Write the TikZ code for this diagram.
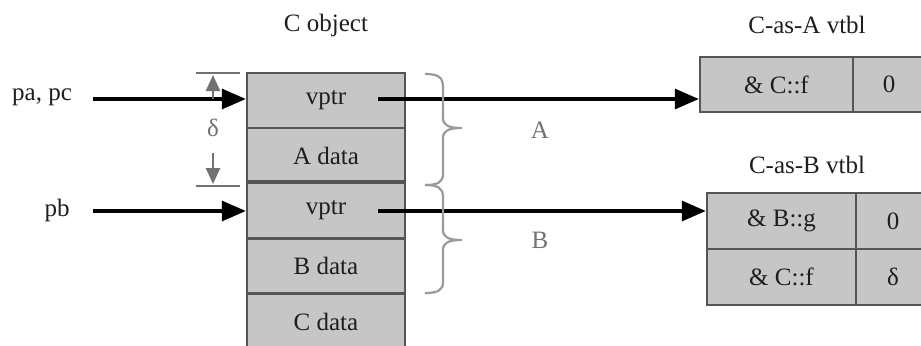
\documentclass[tikz,border=0pt]{standalone}
\usepackage{fontspec}
\setmainfont{Liberation Serif}
\usetikzlibrary{arrows.meta}
\definecolor{cellgray}{HTML}{C6C6C6}
\definecolor{edgegray}{HTML}{555555}
\definecolor{dimgray2}{HTML}{727272}
\definecolor{bracegray}{HTML}{9A9A9A}
\definecolor{txt}{HTML}{1E1E1E}
\begin{document}
\begin{tikzpicture}[x=0.5pt,y=-0.5pt,
  font=\fontsize{12.5}{15}\selectfont,
  cell/.style={draw=edgegray, fill=cellgray, line width=1.2pt, text=txt, inner sep=0pt},
  ptr/.style={line width=1.6pt, -{Triangle[length=12pt,width=10pt]}},
  dimline/.style={draw=dimgray2, line width=1.2pt},
  dimhead/.style={-{Triangle[length=8pt,width=7pt]}},
  lbl/.style={text=txt, inner sep=0pt},
  grlbl/.style={text=dimgray2, inner sep=0pt},
  bracestyle/.style={draw=bracegray, line width=1.1pt}]
\useasboundingbox (0,0) rectangle (921,345);
\clip (0,0) rectangle (921,345);

% C object
\node[lbl] (tco) at (326,25) {C object};
\node[cell, minimum width=79pt, minimum height=27.5pt] (v1) at (326,100.5) {vptr};
\node[cell, minimum width=79pt, minimum height=27.5pt] (ad) at (326,155.5) {A data};
\node[cell, minimum width=79pt, minimum height=27.5pt] (v2) at (326,210.5) {vptr};
\node[cell, minimum width=79pt, minimum height=27.5pt] (bd) at (326,266) {B data};
\node[cell, minimum width=79pt, minimum height=27.5pt] (cd) at (326,321.5) {C data};
\draw[edgegray, line width=2.2pt] (v2.north west) -- (v2.north east);

% vtables
\node[lbl] (tA) at (807,25) {C-as-A vtbl};
\node[cell, minimum width=76.5pt, minimum height=27.5pt] (a1) at (776.5,84.5) {\& C::f};
\node[cell, minimum width=36pt, minimum height=27.5pt] (a2) at (889,84.5) {0};

\node[lbl] (tB) at (807,165) {C-as-B vtbl};
\node[cell, minimum width=74.5pt, minimum height=28pt] (b1) at (781.5,221) {\& B::g};
\node[cell, minimum width=37pt, minimum height=28pt] (b2) at (893,221) {0};
\node[cell, minimum width=74.5pt, minimum height=28pt] (b3) at (781.5,277) {\& C::f};
\node[cell, minimum width=37pt, minimum height=28pt] (b4) at (893,277) {δ};

% incoming pointers
\node[lbl] (pa) at (42,97) {pa, pc};
\node[lbl] (pb) at (57,210) {pb};
\coordinate (pas) at (93,99);
\coordinate (pbs) at (93,211);
\draw[ptr] (pas) -- (pas -| v1.west);
\draw[ptr] (pbs) -- (pbs -| v2.west);

% vptr pointers
\coordinate (v1s) at (378,99);
\coordinate (v2s) at (378,211);
\draw[ptr] (v1s) -- (v1s -| a1.west);
\draw[ptr] (v2s) -- (v2s -| b1.west);

% delta dimension
\coordinate (dt1) at (196,73);
\coordinate (dt2) at (240,73);
\coordinate (db1) at (196,186);
\coordinate (db2) at (240,186);
\draw[dimline] (dt1) -- (dt2);
\draw[dimline] (db1) -- (db2);
\coordinate (du0) at (213,99);
\coordinate (du1) at (213,75);
\coordinate (dd0) at (213,153);
\coordinate (dd1) at (213,184);
\draw[dimline, dimhead] (du0) -- (du1);
\draw[dimline, dimhead] (dd0) -- (dd1);
\node[grlbl] (delta) at (213,128) {δ};

% braces
\draw[bracestyle] (425,74) .. controls (438,74) and (443,77) .. (443,87)
  -- (443,118) .. controls (443,125) and (448,128) .. (462,128)
  .. controls (448,128) and (443,131) .. (443,138)
  -- (443,174) .. controls (443,182) and (438,185) .. (425,185);
\draw[bracestyle] (425,185) .. controls (438,185) and (443,188) .. (443,197)
  -- (443,230) .. controls (443,237) and (448,240) .. (462,240)
  .. controls (448,240) and (443,243) .. (443,250)
  -- (443,282) .. controls (443,290) and (438,293) .. (425,293);
\node[grlbl] (la) at (540,130) {A};
\node[grlbl] (lb) at (540,240) {B};
\end{tikzpicture}
\end{document}
